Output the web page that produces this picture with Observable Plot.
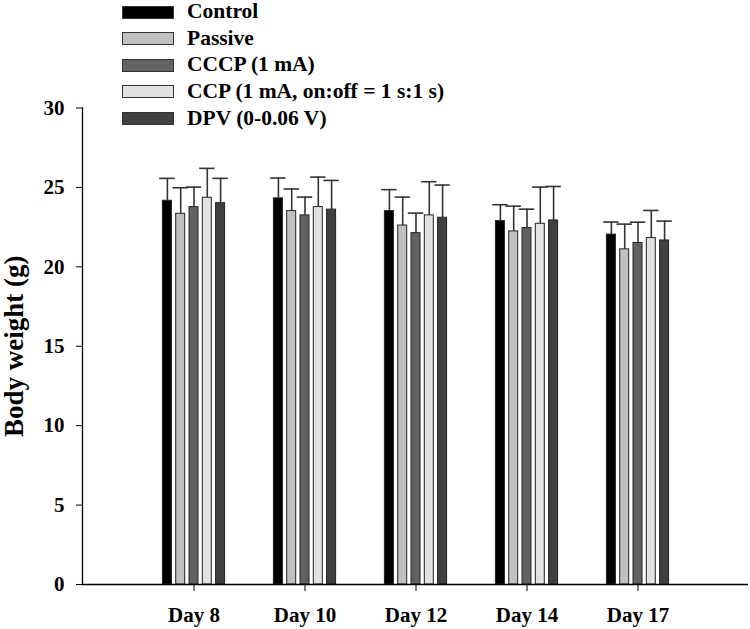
<!DOCTYPE html>
<html>
<head>
<meta charset="utf-8">
<script src="https://cdn.jsdelivr.net/npm/d3@7"></script>
<script src="https://cdn.jsdelivr.net/npm/@observablehq/plot@0.6"></script>
<style>
  html, body { margin: 0; padding: 0; background: #fff; }
  #wrap { position: relative; width: 750px; height: 629px; font-family: "Liberation Serif", "Times New Roman", serif; }
  #legend { position: absolute; left: 122px; top: 0; }
  .row { position: absolute; left: 0; height: 27px; display: flex; align-items: center; white-space: nowrap; }
  .sw { width: 50px; height: 11px; border: 1px solid #333; margin-right: 13px; flex: none; }
  .lab { font-size: 21.5px; line-height: 1; font-weight: bold; color: #000; }
</style>
</head>
<body>
<div id="wrap"><div id="legend"></div></div>
<script>
const days = ["Day 8", "Day 10", "Day 12", "Day 14", "Day 17"];
const seriesNames = ["Control", "Passive", "CCCP (1 mA)", "CCP (1 mA, on:off = 1 s:1 s)", "DPV (0-0.06 V)"];
const seriesColors = ["#000000", "#c0c0c0", "#626262", "#e2e2e2", "#404040"];
const yLabel = "Body weight (g)";

const controlMean = [24.16, 24.31, 23.51, 22.88, 22.03];
const controlSD   = [1.41, 1.28, 1.35, 1.03, 0.79];
const passiveMean = [23.34, 23.51, 22.60, 22.23, 21.10];
const passiveSD   = [1.64, 1.39, 1.79, 1.59, 1.59];
const cccpMean    = [23.76, 23.24, 22.12, 22.44, 21.50];
const cccpSD      = [1.26, 1.15, 1.26, 1.19, 1.31];
const ccpMean     = [24.35, 23.76, 23.24, 22.71, 21.81];
const ccpSD       = [1.85, 1.89, 2.12, 2.31, 1.74];
const dpvMean     = [24.01, 23.60, 23.09, 22.92, 21.66];
const dpvSD       = [1.56, 1.84, 2.06, 2.14, 1.22];

const yTicks = [0, 5, 10, 15, 20, 25, 30];

const means = [controlMean, passiveMean, cccpMean, ccpMean, dpvMean];
const sds = [controlSD, passiveSD, cccpSD, ccpSD, dpvSD];

const data = [];
seriesNames.forEach((s, i) => days.forEach((d, j) => data.push({series: s, si: i, day: d, mean: means[i][j], sd: sds[i][j]})));

const W = 750, H = 629, mL = 82, mR = 2;
const padI = 0.4, padO = 0.7;
const step = (W - mL - mR) / (days.length - padI + 2 * padO);
const bw = step * (1 - padI);
const pitch = 13.3, barW = 8.6, capW = 15;

const marks = [];
seriesNames.forEach((s, i) => {
  const sub = data.filter(d => d.si === i);
  const dx = (i - 2) * pitch;
  marks.push(Plot.ruleX(sub, {x: "day", y1: "mean", y2: d => d.mean + d.sd, dx, stroke: "#333", strokeWidth: 1.6}));
  marks.push(Plot.tickY(sub, {x: "day", y: d => d.mean + d.sd, dx, stroke: "#333", strokeWidth: 1.6, insetLeft: (bw - capW) / 2, insetRight: (bw - capW) / 2}));
  marks.push(Plot.barY(sub, {x: "day", y: "mean", dx, fill: seriesColors[i], stroke: "#222", strokeWidth: 1, insetLeft: (bw - barW) / 2, insetRight: (bw - barW) / 2}));
});

const chart = Plot.plot({
  width: W,
  height: H,
  marginLeft: mL,
  marginRight: mR,
  marginTop: 107.5,
  marginBottom: 45,
  style: {fontFamily: "'Liberation Serif', 'Times New Roman', serif", fontSize: "21px", fontWeight: "bold", color: "#000", background: "#fff"},
  x: {type: "band", domain: days, paddingInner: padI, paddingOuter: padO},
  y: {domain: [0, 30]},
  marks: [
    ...marks,
    Plot.ruleY([0], {stroke: "#000", strokeWidth: 1.3}),
    Plot.frame({anchor: "left", stroke: "#000", strokeWidth: 1.3}),
    Plot.axisY({ticks: yTicks, tickSize: 6, tickPadding: 12, label: null, fontSize: 21, fontWeight: "bold"}),
    Plot.text([yLabel], {frameAnchor: "left", textAnchor: "middle", rotate: -90, dx: -68, fontSize: 27, fontWeight: "bold", fill: "#000"}),
    Plot.axisX({tickSize: 7, tickPadding: 16, label: null, fontSize: 21, fontWeight: "bold"})
  ]
});

const wrap = document.getElementById("wrap");
wrap.insertBefore(chart, wrap.firstChild);

const legend = document.getElementById("legend");
seriesNames.forEach((s, i) => {
  const row = document.createElement("div");
  row.className = "row";
  row.style.top = (-1.5 + i * 26.6) + "px";
  const sw = document.createElement("div");
  sw.className = "sw";
  sw.style.background = seriesColors[i];
  const lab = document.createElement("span");
  lab.className = "lab";
  lab.textContent = s;
  row.appendChild(sw);
  row.appendChild(lab);
  legend.appendChild(row);
});
</script>
</body>
</html>
